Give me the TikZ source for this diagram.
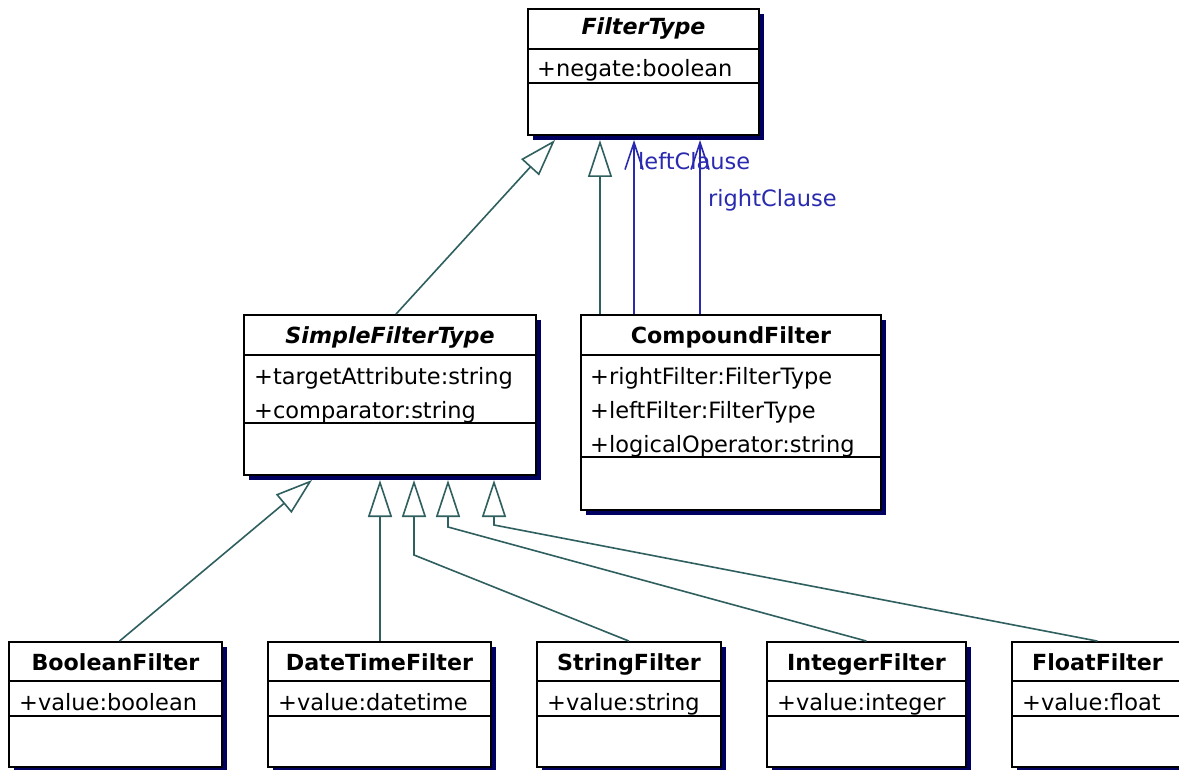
\documentclass[tikz,border=0pt]{standalone}
\usepackage{fontspec}
\setmainfont{DejaVu Sans}
\usetikzlibrary{arrows.meta,fit}
\definecolor{shad}{HTML}{000060}
\definecolor{gencol}{HTML}{2F5F5F}
\definecolor{asscol}{HTML}{2A2AB0}
\tikzset{
 box/.style={draw=black, fill=white, line width=1.8pt, inner sep=0pt},
 sepline/.style={draw=black, line width=1.8pt},
 ttl/.style={font=\fontsize{22.2}{26}\selectfont\bfseries, inner sep=0pt, anchor=base},
 attr/.style={font=\fontsize{22.5}{26}\selectfont, inner sep=0pt, anchor=base west},
 gen/.style={draw=gencol, line width=1.6pt, -{Triangle[open, length=37pt, width=24pt]}},
 assoc/.style={draw=asscol, line width=1.6pt, -{Straight Barb[length=27pt, width=18pt]}},
 lbl/.style={text=asscol, font=\fontsize{22.5}{26}\selectfont, inner sep=0pt, anchor=base west},
}
\newcommand{\umlclass}[7]{%
 \fill[shad] (#2+5,#3+5) rectangle (#4+5,#7+5);
 \node[box, fit={(#2,#3) (#4,#7)}] (#1) {};
 \draw[sepline] (#2,#5) -- (#4,#5);
 \draw[sepline] (#2,#6) -- (#4,#6);
}
\begin{document}
\begin{tikzpicture}[x=1pt,y=-1pt]
\useasboundingbox[fill=white] (0,0) rectangle (1179,770);

% classes
\umlclass{ft}{528}{9}{759}{49}{83}{135}
\node[ttl, font=\fontsize{22.2}{26}\selectfont\bfseries\itshape] (ft-t) at (643.5,35) {FilterType};
\node[attr] (ft-a1) at (537,77) {+negate:boolean};

\umlclass{sft}{244}{315}{536}{355}{423}{475}
\node[ttl, font=\fontsize{22.2}{26}\selectfont\bfseries\itshape] (sft-t) at (390,343) {SimpleFilterType};
\node[attr] (sft-a1) at (254,384) {+targetAttribute:string};
\node[attr] (sft-a2) at (254,418) {+comparator:string};

\umlclass{cf}{581}{315}{881}{355}{457}{510}
\node[ttl] (cf-t) at (731,343) {CompoundFilter};
\node[attr] (cf-a1) at (590,384) {+rightFilter:FilterType};
\node[attr] (cf-a2) at (590,418) {+leftFilter:FilterType};
\node[attr] (cf-a3) at (590,452) {+logicalOperator:string};

\umlclass{bf}{9}{642}{222}{681}{716}{767}
\node[ttl] (bf-t) at (115.5,670) {BooleanFilter};
\node[attr] (bf-a1) at (19,710) {+value:boolean};

\umlclass{dtf}{268}{642}{491}{681}{716}{767}
\node[ttl] (dtf-t) at (379.5,670) {DateTimeFilter};
\node[attr] (dtf-a1) at (278,710) {+value:datetime};

\umlclass{sf}{537}{642}{721}{681}{716}{767}
\node[ttl] (sf-t) at (629,670) {StringFilter};
\node[attr] (sf-a1) at (547,710) {+value:string};

\umlclass{if}{767}{642}{966}{681}{716}{767}
\node[ttl] (if-t) at (866.5,670) {IntegerFilter};
\node[attr] (if-a1) at (777,710) {+value:integer};

\umlclass{ff}{1012}{642}{1183}{681}{716}{767}
\node[ttl] (ff-t) at (1097.5,670) {FloatFilter};
\node[attr] (ff-a1) at (1022,710) {+value:float};

% endpoints on parents
\coordinate (ftA) at (555,140);
\coordinate (ftB) at (600,140);
\coordinate (ftL) at (634,140);
\coordinate (ftR) at (700,140);
\coordinate (s1) at (312,480);
\coordinate (s2) at (380,480);
\coordinate (s3) at (414,480);
\coordinate (s4) at (448,480);
\coordinate (s5) at (494,480);
\coordinate (b3) at (414,555);
\coordinate (b4) at (448,527);
\coordinate (b5) at (494,525);

% connectors
\draw[gen] ([xshift=6pt]sft.north) -- (ftA);
\draw[gen] (cf.north -| ftB) -- (ftB);
\draw[assoc] (cf.north -| ftL) -- (ftL);
\draw[assoc] (cf.north -| ftR) -- (ftR);

\draw[gen] ([xshift=4pt]bf.north) -- (s1);
\draw[gen] (dtf.north -| s2) -- (s2);
\draw[gen] (sf.north) -- (b3) -- (s3);
\draw[gen] (if.north) -- (b4) -- (s4);
\draw[gen] (ff.north) -- (b5) -- (s5);

% labels
\node[lbl] (lc) at (638,170) {leftClause};
\node[lbl] (rc) at (708,207) {rightClause};
\end{tikzpicture}
\end{document}
